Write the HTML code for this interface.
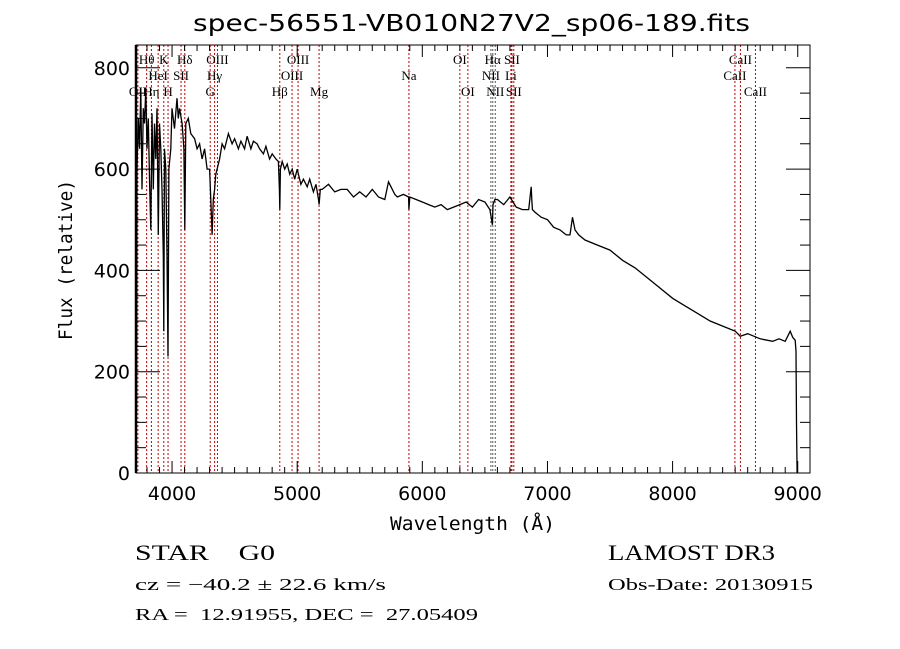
<!DOCTYPE html>
<html><head><meta charset="utf-8"><style>
html,body{margin:0;padding:0;background:#fff}
svg{display:block}
text{font-family:"Liberation Serif",serif;fill:#000}
</style></head><body>
<svg id="chart" width="900" height="649" xmlns="http://www.w3.org/2000/svg">
<rect width="900" height="649" fill="#fff"/>
<text x="193" y="31" font-size="23" textLength="557" lengthAdjust="spacingAndGlyphs" style="font-family:'DejaVu Sans',sans-serif">spec-56551-VB010N27V2_sp06-189.fits</text>
<g id="lines"></g>
<g id="labels"></g>
<polyline id="spec" fill="none" stroke="#000" stroke-width="1.3"/>
<g id="axes"></g>
<text x="390" y="530" font-size="19" textLength="165" lengthAdjust="spacingAndGlyphs" style="font-family:'DejaVu Sans Mono',monospace">Wavelength (Å)</text>
<text transform="translate(72,340) rotate(-90)" font-size="19" textLength="160" lengthAdjust="spacingAndGlyphs" style="font-family:'DejaVu Sans Mono',monospace">Flux (relative)</text>
<text x="135" y="560" font-size="22" textLength="140" lengthAdjust="spacingAndGlyphs" xml:space="preserve">STAR    G0</text>
<text x="608" y="560" font-size="22" textLength="167" lengthAdjust="spacingAndGlyphs">LAMOST DR3</text>
<text x="135" y="590" font-size="17" textLength="251" lengthAdjust="spacingAndGlyphs">cz = −40.2 ± 22.6 km/s</text>
<text x="608" y="590" font-size="17" textLength="205" lengthAdjust="spacingAndGlyphs">Obs-Date: 20130915</text>
<text x="135" y="620" font-size="17" textLength="343" lengthAdjust="spacingAndGlyphs" xml:space="preserve">RA =  12.91955, DEC =  27.05409</text>
</svg>
<script>
const wave=[3712,3714,3716,3720,3730,3740,3750,3760,3770,3780,3790,3800,3810,3820,3830,3840,3850,3860,3870,3880,3890,3900,3910,3920,3930,3934,3940,3950,3960,3968,3975,3990,4000,4020,4040,4050,4060,4080,4095,4102,4110,4130,4150,4180,4200,4220,4240,4260,4280,4300,4310,4320,4330,4340,4350,4360,4380,4400,4420,4450,4480,4500,4530,4550,4580,4600,4630,4650,4680,4700,4730,4750,4780,4800,4830,4850,4858,4861,4866,4880,4900,4920,4940,4960,4980,5000,5030,5050,5080,5100,5130,5150,5170,5175,5185,5200,5250,5300,5350,5400,5450,5500,5550,5600,5650,5700,5730,5750,5780,5800,5850,5890,5893,5900,5950,6000,6050,6100,6150,6200,6250,6300,6350,6400,6450,6500,6540,6560,6565,6580,6600,6650,6700,6750,6800,6850,6870,6875,6880,6900,6950,7000,7050,7100,7150,7180,7200,7220,7250,7300,7400,7500,7600,7700,7800,7900,8000,8100,8200,8300,8400,8500,8540,8600,8700,8800,8850,8900,8940,8960,8980,8986,8990,8995];
const flux=[20,330,120,600,700,640,760,560,720,690,760,640,700,580,480,710,560,690,620,720,470,690,640,560,430,280,640,600,430,230,600,640,720,680,740,700,720,690,640,480,690,700,670,660,640,650,620,640,600,600,540,470,540,560,590,600,620,650,640,670,650,660,640,655,640,665,640,655,650,640,630,645,620,630,620,615,560,520,600,615,600,610,590,600,580,600,570,580,565,580,555,570,540,530,560,560,570,555,560,560,545,555,545,560,545,540,575,565,550,545,550,545,520,545,540,535,530,525,530,520,525,530,535,525,540,535,520,490,530,540,540,530,545,525,520,520,565,540,520,515,505,500,485,480,470,470,505,480,470,460,450,440,420,405,385,365,345,330,315,300,290,280,270,275,265,260,265,260,280,268,262,240,100,0];
const lineWaves=[3727,3797,3835,3889,3934,3968,4072,4102,4305,4340,4363,4861,4959,5007,5175,5893,6300,6364,6548,6563,6583,6708,6716,6731,8498,8542,8662];
const labelText=["OII","Hθ","Hη","HeI","K","H","SII","Hδ","G","Hγ","OIII","Hβ","OIII","OIII","Mg","Na","OI","OI","NII","Hα","NII","Li","SII","SII","CaII","CaII","CaII"];
const labelRow=[2,0,2,1,0,2,1,0,2,1,0,2,1,0,2,1,0,2,1,0,2,1,0,2,1,0,2];
const xTicks=[4000,5000,6000,7000,8000,9000];
const yTicks=[0,200,400,600,800];
const X0=136,X1=810,Y0=473,Y1=45,WMIN=3712,WMAX=9098,FMIN=0,FMAX=845;
const sx=w=>X0+(w-WMIN)/(WMAX-WMIN)*(X1-X0);
const sy=f=>Y0-(f-FMIN)/(FMAX-FMIN)*(Y0-Y1);
const NS="http://www.w3.org/2000/svg";
function mk(tag,attrs,parent){const e=document.createElementNS(NS,tag);for(const k in attrs)e.setAttribute(k,attrs[k]);parent.appendChild(e);return e;}
const gl=document.getElementById('lines'),glab=document.getElementById('labels'),ga=document.getElementById('axes');
lineWaves.forEach((w,i)=>{
  const gray=(w>6540&&w<6590);
  const l=mk('line',{x1:sx(w),x2:sx(w),y1:Y1,y2:Y0,stroke:gray?'#555':'#c00000','stroke-width':1,'stroke-dasharray':'2,2'},gl);
  
  
  const t=mk('text',{x:sx(w),y:64+labelRow[i]*16,'font-size':13,'text-anchor':'middle'},glab);
  t.textContent=labelText[i];
  
  
});
document.getElementById('spec').setAttribute('points',wave.map((w,i)=>sx(w).toFixed(1)+','+sy(flux[i]).toFixed(1)).join(' '));
const fr=mk('rect',{x:X0,y:Y1,width:X1-X0,height:Y0-Y1,fill:'none',stroke:'#000','stroke-width':1},ga);


mk('line',{x1:X0,x2:X0,y1:Y1,y2:Y0,stroke:'#000','stroke-width':2.5},ga);
for(let w=3800;w<=9000;w+=100){const big=w%1000===0;const L=big?12:6;
  mk('line',{x1:sx(w),x2:sx(w),y1:Y0,y2:Y0-L,stroke:'#000'},ga);
  mk('line',{x1:sx(w),x2:sx(w),y1:Y1,y2:Y1+L,stroke:'#000'},ga);}
for(let f=0;f<=800;f+=50){const big=f%200===0;const L=big?24:10;
  mk('line',{x1:X0,x2:X0+L,y1:sy(f),y2:sy(f),stroke:'#000'},ga);
  mk('line',{x1:X1,x2:X1-L,y1:sy(f),y2:sy(f),stroke:'#000'},ga);}
xTicks.forEach(v=>{const t=mk('text',{x:sx(v),y:Y0+27,'font-size':19,'text-anchor':'middle',style:"font-family:'DejaVu Sans',sans-serif"},ga);t.textContent=v;
  
  });
yTicks.forEach(v=>{const t=mk('text',{x:X0-6,y:sy(v)+7,'font-size':19,'text-anchor':'end',style:"font-family:'DejaVu Sans',sans-serif"},ga);t.textContent=v;
  
  });
</script>
</body></html>
